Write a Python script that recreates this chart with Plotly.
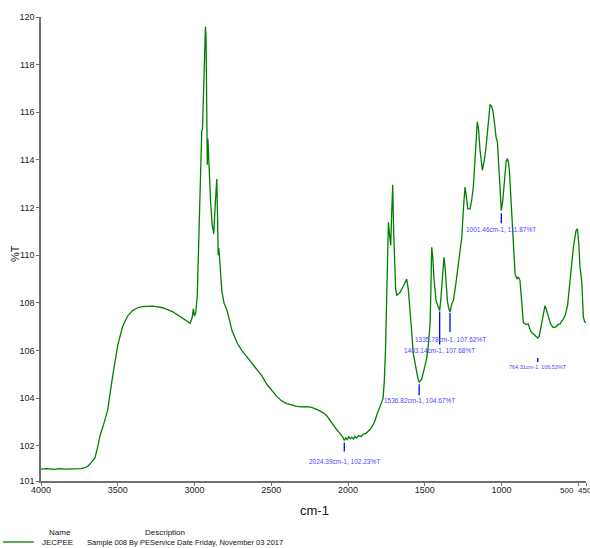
import plotly.graph_objects as go

# FT-IR transmission spectrum (wavenumber in cm-1, transmittance in %T)
wavenumber = [
    4000, 3960, 3920, 3880, 3840, 3800, 3770, 3740, 3713, 3695, 3681, 3665, 3648,
    3629, 3616, 3590, 3566, 3534, 3501, 3469, 3436, 3404, 3370, 3339, 3300, 3274,
    3240, 3209, 3175, 3145, 3110, 3080, 3050, 3028, 3015, 3008, 3000, 2992, 2982,
    2972, 2965, 2958, 2953, 2948, 2942, 2935, 2929, 2925, 2921, 2917, 2913, 2909,
    2903, 2895, 2885, 2875, 2866, 2860, 2855, 2850, 2846, 2842, 2838, 2832, 2822,
    2808, 2788, 2756, 2723, 2691, 2660, 2626, 2590, 2561, 2530, 2497, 2465, 2432,
    2400, 2367, 2335, 2302, 2270, 2237, 2210, 2186, 2160, 2140, 2120, 2108, 2090,
    2076, 2060, 2043, 2035, 2015, 2005, 1995, 1985, 1975, 1965, 1955, 1945, 1930,
    1915, 1900, 1885, 1870, 1855, 1840, 1825, 1810, 1795, 1780, 1772, 1764, 1756,
    1748, 1742, 1737, 1730, 1722, 1716, 1709, 1703, 1697, 1690, 1683, 1672, 1661,
    1640, 1618, 1608, 1601, 1588, 1575, 1562, 1552, 1545, 1528, 1520, 1505, 1487,
    1476, 1466, 1460, 1455, 1448, 1440, 1427, 1415, 1395, 1385, 1375, 1368, 1360,
    1353, 1345, 1324, 1314, 1300, 1285, 1270, 1259, 1248, 1238, 1230, 1220, 1205,
    1195, 1184, 1170, 1158, 1150, 1140, 1125, 1112, 1101, 1088, 1075, 1065, 1057,
    1045, 1036, 1027, 1018, 1010, 992, 980, 970, 962, 955, 949, 938, 927, 912, 900,
    891, 880, 870, 858, 840, 826, 815, 804, 792, 782, 772, 755, 745, 736, 728, 717,
    707, 695, 680, 663, 645, 630, 619, 600, 586, 570, 554, 540, 532, 515, 506, 497,
    489, 478, 467, 458, 450,
]
transmittance = [
    101.03, 101.05, 101.02, 101.05, 101.03, 101.04, 101.06, 101.05, 101.09, 101.15,
    101.24, 101.36, 101.51, 102.0, 102.42, 102.95, 103.5, 104.9, 106.2, 107.0,
    107.45, 107.68, 107.8, 107.85, 107.88, 107.87, 107.84, 107.8, 107.72, 107.64,
    107.5, 107.38, 107.25, 107.15, 107.4, 107.75, 107.45, 107.6, 108.3, 110.5,
    112.3, 114.6, 115.2, 115.3, 116.5, 118.5, 119.6, 119.2, 116.0, 113.8, 114.9,
    114.2, 112.8, 112.2, 111.3, 110.9, 112.0, 112.9, 113.2, 111.6, 110.0, 110.3,
    110.0, 109.2, 108.5, 108.0, 107.68, 106.84, 106.33, 106.0, 105.75, 105.49,
    105.22, 104.94, 104.6, 104.31, 104.08, 103.89, 103.78, 103.72, 103.66, 103.64,
    103.65, 103.62, 103.55, 103.48, 103.38, 103.28, 103.1, 102.98, 102.82, 102.7,
    102.58, 102.47, 102.38, 102.34, 102.27, 102.39, 102.3, 102.37, 102.29, 102.4,
    102.33, 102.44, 102.39, 102.5, 102.52, 102.62, 102.7, 102.85, 103.05, 103.35,
    103.65, 103.85, 104.0, 104.7, 106.0, 108.1, 110.0, 111.39, 110.9, 110.41,
    111.7, 112.96, 111.0, 109.3, 108.6, 108.31, 108.4, 108.45, 108.7, 109.0, 108.6,
    108.1, 107.0, 105.87, 105.4, 105.15, 104.85, 104.76, 104.8, 105.2, 105.7,
    106.3, 107.1, 108.6, 110.34, 109.9, 109.0, 108.1, 107.85, 108.2, 109.2, 109.92,
    109.5, 108.7, 108.1, 107.8, 107.97, 108.1, 108.7, 109.5, 110.2, 110.76, 112.0,
    112.86, 112.5, 111.95, 111.95, 112.3, 112.86, 114.3, 115.6, 115.3, 114.4,
    113.56, 114.0, 114.54, 115.6, 116.33, 116.25, 116.09, 115.5, 114.96, 114.75,
    113.6, 112.6, 112.3, 113.3, 113.95, 114.06, 113.9, 113.56, 112.3, 110.9,
    109.22, 109.0, 109.1, 108.94, 108.1, 107.18, 107.1, 107.12, 106.9, 106.76,
    106.7, 106.63, 106.55, 106.6, 106.9, 107.2, 107.54, 107.89, 107.7, 107.39,
    107.1, 106.97, 107.0, 107.1, 107.12, 107.3, 107.47, 107.9, 108.94, 109.8,
    110.34, 111.04, 111.11, 110.5, 109.5, 108.94, 107.4, 107.2, 107.17,
]

# Picked peaks (transmission minima)
peak_wn = [2024.39, 1536.82, 1403.14, 1335.78, 1001.46, 764.31]
peak_t = [102.23, 104.67, 107.68, 107.62, 111.87, 106.53]

# Axis ticks; the last two x labels (500 and the 450 end value) are drawn side by side
x_ticks = [4000, 3500, 3000, 2500, 2000, 1500, 1000, 500, 450]
x_ticktext = ["4000", "3500", "3000", "2500", "2000", "1500", "1000", "500", "450"]
y_min, y_max = 100.53, 120.0
y_ticks = [y_min, 102, 104, 106, 108, 110, 112, 114, 116, 118, y_max]
y_ticktext = ["101", "102", "104", "106", "108", "110", "112", "114", "116", "118", "120"]

sample_name = "JECPEE"
sample_desc = "Sample 008 By PEService Date Friday, November 03 2017"

# Merge the picked peak points into the trace so the labelled minima lie on the curve
pts = sorted(zip(wavenumber + peak_wn, transmittance + peak_t), reverse=True)
xs = [p[0] for p in pts]
ys = [p[1] for p in pts]

FONT = "Liberation Sans Narrow, Arial Narrow, Liberation Sans, Arial, sans-serif"
AXIS_COLOR = "#707070"
LINE_GREEN = "#008000"
PEAK_BLUE = "#0000ff"
PEAK_TEXT = "#4848ff"

fig = go.Figure()
fig.add_trace(go.Scatter(
    x=xs, y=ys, mode="lines",
    line=dict(color=LINE_GREEN, width=1.3),
    hoverinfo="skip", showlegend=False,
))

# Marker tick (pixels below the point) and label offset for each picked peak
tick_px = [(2, 11), (2, 13), (1, 34), (1, 20), (2.5, 12.5), (20, 24)]
label_px = [21, 18, 40, 27, 19, 28.5]
label_size = [6.5, 6.5, 6.5, 6.5, 6.5, 5.5]

shapes = []
annotations = []
for wn, t, (t0, t1), off, fs in zip(peak_wn, peak_t, tick_px, label_px, label_size):
    shapes.append(dict(
        type="line", xref="x", yref="y", ysizemode="pixel", yanchor=t,
        x0=wn, x1=wn, y0=-t0, y1=-t1,
        line=dict(color=PEAK_BLUE, width=1.3),
    ))
    annotations.append(dict(
        x=wn, y=t, xref="x", yref="y", yshift=-off,
        text=f"{wn:.2f}cm-1, {t:.2f}%T", showarrow=False,
        font=dict(family=FONT, size=fs, color=PEAK_TEXT),
        xanchor="center", yanchor="middle",
    ))

# Plot area in pixels: x 41..586, y 17..481
L, R, T_, B = 41, 586, 17, 481
W, H = R - L, B - T_


def px(xp):
    return (xp - L) / W


def py(yp):
    return (B - yp) / H


TICK_LABEL_Y = 490
tick_font = dict(family=FONT, size=9, color="#222")
end_font = dict(family=FONT, size=8, color="#222")

annotations += [
    # 500 tick label and the 450 end value, butted together at the right end
    dict(x=px(576), y=py(TICK_LABEL_Y), xref="paper", yref="paper",
         text=x_ticktext[-2], showarrow=False, font=end_font,
         xanchor="right", yanchor="middle"),
    dict(x=px(576), y=py(TICK_LABEL_Y), xref="paper", yref="paper",
         text=x_ticktext[-1], showarrow=False, font=end_font,
         xanchor="left", yanchor="middle"),
    dict(x=px(314), y=py(510), xref="paper", yref="paper", text="cm-1",
         showarrow=False, font=dict(family=FONT, size=13, color="#111"),
         xanchor="center", yanchor="middle"),
    dict(x=px(15), y=py(254), xref="paper", yref="paper", text="%T",
         textangle=-90, showarrow=False,
         font=dict(family=FONT, size=11, color="#111"),
         xanchor="center", yanchor="middle"),
    dict(x=px(47), y=py(532), xref="paper", yref="paper", text="Name",
         showarrow=False, font=dict(family=FONT, size=8, color="#111"),
         xanchor="left", yanchor="middle"),
    dict(x=px(143), y=py(532), xref="paper", yref="paper", text="Description",
         showarrow=False, font=dict(family=FONT, size=8, color="#111"),
         xanchor="left", yanchor="middle"),
    dict(x=px(40), y=py(542), xref="paper", yref="paper", text=sample_name,
         showarrow=False, font=dict(family=FONT, size=8, color="#111"),
         xanchor="left", yanchor="middle"),
    dict(x=px(85), y=py(542), xref="paper", yref="paper", text=sample_desc,
         showarrow=False, font=dict(family=FONT, size=7.5, color="#111"),
         xanchor="left", yanchor="middle"),
]
shapes.append(dict(
    type="line", xref="paper", yref="paper",
    x0=px(3), x1=px(34), y0=py(542), y1=py(542),
    line=dict(color=LINE_GREEN, width=1.3),
))

fig.update_layout(
    width=590, height=548,
    margin=dict(l=L, r=590 - R, t=T_, b=548 - B),
    paper_bgcolor="white", plot_bgcolor="white",
    shapes=shapes, annotations=annotations,
    font=dict(family=FONT, size=9, color="#222"),
)
fig.update_xaxes(
    range=[4000, 450], tickvals=x_ticks,
    ticktext=x_ticktext[:-2] + ["", ""], tickangle=0, automargin=False,
    ticklabelstandoff=-4,
    showgrid=False, zeroline=False, showline=True, linecolor=AXIS_COLOR,
    linewidth=1.5, ticks="outside", ticklen=3, tickcolor=AXIS_COLOR,
    tickfont=tick_font,
)
fig.update_yaxes(
    range=[y_min, y_max], tickvals=y_ticks, ticktext=y_ticktext, automargin=False,
    showgrid=False, zeroline=False, showline=True, linecolor=AXIS_COLOR,
    linewidth=1.5, ticks="outside", ticklen=3, tickcolor=AXIS_COLOR,
    tickfont=tick_font,
)

fig.write_html("out.html")
